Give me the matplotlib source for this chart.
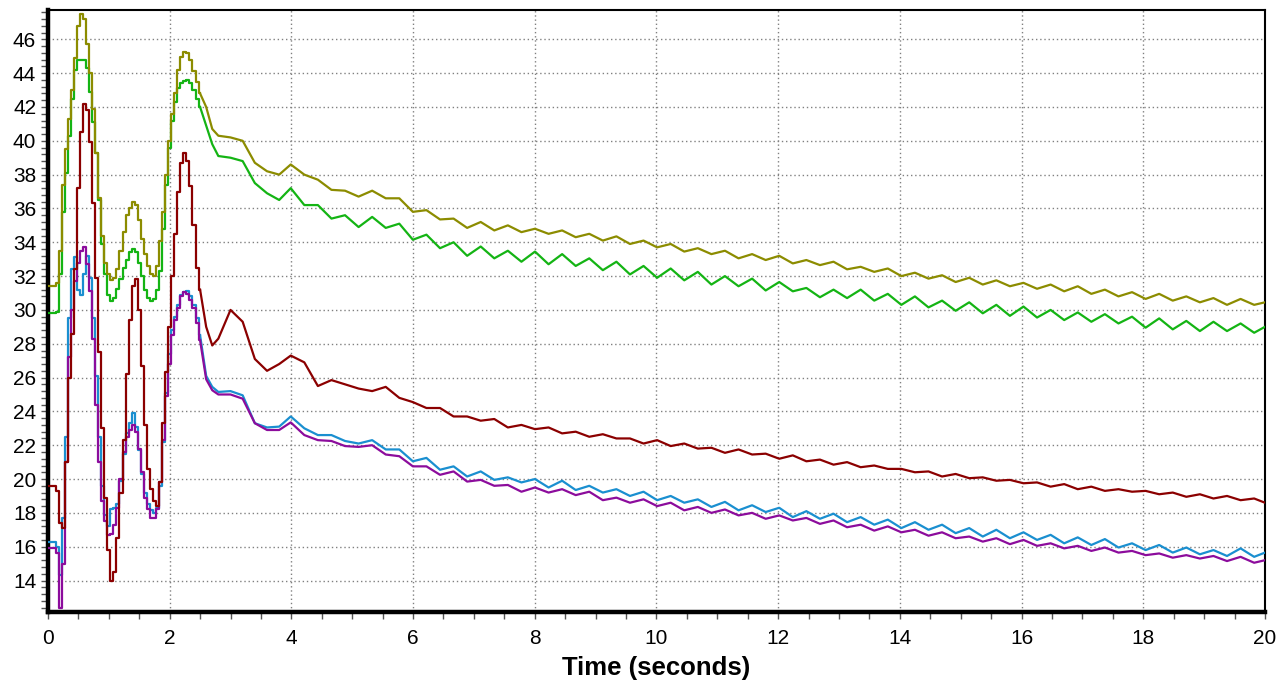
import numpy as np
import matplotlib
matplotlib.use('Agg')
import matplotlib.pyplot as plt
from matplotlib.ticker import MultipleLocator

plt.rcParams['font.family'] = ['Liberation Sans', 'DejaVu Sans']

# sample times (s): fine steps over the start-up, then half-period steps of the ripple
t_early = np.round(np.arange(0.0, 2.501, 0.05), 2)
t_mid = [2.6, 2.7, 2.8, 3.0, 3.2, 3.4, 3.6, 3.8]
t_late = np.round(3.99 + 0.223*np.arange(72), 3)
t = np.concatenate([t_early, t_mid, t_late, [20.0]])
n_early = len(t_early)

olive = [31.4, 31.4, 31.4, 31.6, 33.5, 37.4, 39.5, 41.3, 43.0, 44.9,
         46.8, 47.5, 47.2, 45.7, 44.0, 41.9, 39.3, 36.6, 34.4, 32.8,
         32.1, 31.75, 31.9, 32.4, 33.5, 34.6, 35.6, 36.0, 36.4, 36.2,
         35.3, 34.2, 33.3, 32.6, 32.1, 32.0, 32.6, 34.1, 35.8, 38.0,
         40.0, 41.6, 42.8, 44.2, 44.95, 45.25, 45.2, 44.8, 44.1, 43.5, 42.8,
         42.0, 40.7, 40.3, 40.2, 40.0, 38.7, 38.2, 38.0,
         38.6, 38.0, 37.7, 37.1, 37.05, 36.7, 37.05, 36.6, 36.6, 35.8,
         35.9, 35.35, 35.4, 34.85, 35.2, 34.7,
         35.0, 34.6, 34.8, 34.5, 34.7, 34.3, 34.5, 34.1, 34.35, 33.9,
         34.1, 33.7, 33.9, 33.45, 33.65, 33.3, 33.5, 33.05, 33.3, 32.95,
         33.2, 32.75, 32.95, 32.65, 32.85, 32.4, 32.55, 32.25, 32.45,
         32.0, 32.2, 31.85, 32.05, 31.65, 31.9, 31.5, 31.75, 31.4, 31.6,
         31.25, 31.5, 31.1, 31.4, 30.95, 31.2, 30.8, 31.05, 30.65, 30.95,
         30.55, 30.8, 30.45, 30.7, 30.3, 30.65, 30.3,
         30.45]

green = [29.8, 29.8, 29.8, 29.9, 32.1, 35.8, 38.1, 40.3, 42.5, 44.2,
         44.75, 44.8, 44.8, 44.3, 42.9, 41.1, 39.3, 36.5, 33.9, 32.1,
         30.9, 30.5, 30.7, 31.25, 31.85, 32.45, 32.95, 33.4, 33.6, 33.4,
         32.8, 32.0, 31.2, 30.7, 30.5, 30.65, 31.2, 32.3, 34.8, 37.4,
         39.6, 41.2, 42.3, 43.1, 43.4, 43.55, 43.6, 43.4, 43.0, 42.5, 42.0,
         40.9, 39.8, 39.1, 39.0, 38.8, 37.5, 36.9, 36.5,
         37.2, 36.2, 36.2, 35.4, 35.6, 34.9, 35.5, 34.85, 35.1, 34.15,
         34.45, 33.65, 34.0, 33.2, 33.75, 33.05,
         33.5, 32.85, 33.45, 32.7, 33.3, 32.6, 33.05, 32.35, 32.85, 32.1,
         32.6, 31.9, 32.45, 31.75, 32.25, 31.5, 32.0, 31.4, 31.85, 31.15,
         31.65, 31.1, 31.3, 30.75, 31.2, 30.7, 31.2, 30.55, 30.95,
         30.3, 30.8, 30.15, 30.55, 29.95, 30.45, 29.8, 30.3, 29.65, 30.2,
         29.55, 30.0, 29.4, 29.85, 29.3, 29.75, 29.2, 29.6, 28.95, 29.5,
         28.85, 29.35, 28.75, 29.3, 28.75, 29.2, 28.65,
         29.0]

red = [19.6, 19.6, 19.6, 19.3, 17.4, 17.1, 21.0, 26.0, 28.6, 32.4,
       37.2, 40.5, 42.2, 41.8, 39.9, 36.3, 31.9, 27.5, 23.0, 18.9,
       15.8, 14.0, 14.5, 16.5, 19.2, 22.3, 26.2, 29.4, 31.4, 31.8,
       30.0, 26.7, 23.2, 20.6, 19.4, 18.7, 18.4, 19.8, 23.3, 26.3,
       29.0, 32.0, 34.5, 37.0, 38.7, 39.3, 38.8, 37.3, 35.0, 32.5, 31.2,
       29.0, 27.9, 28.3, 30.0, 29.3, 27.1, 26.4, 26.8,
       27.3, 26.9, 25.5, 25.85, 25.6, 25.35, 25.2, 25.45, 24.8, 24.55,
       24.2, 24.2, 23.7, 23.7, 23.45, 23.55,
       23.05, 23.2, 22.95, 23.05, 22.7, 22.8, 22.5, 22.65, 22.4, 22.4,
       22.1, 22.3, 21.95, 22.1, 21.8, 21.85, 21.55, 21.75, 21.45, 21.5,
       21.2, 21.4, 21.05, 21.15, 20.85, 21.0, 20.7, 20.8, 20.6,
       20.6, 20.4, 20.45, 20.15, 20.3, 20.05, 20.1, 19.9, 19.95, 19.75,
       19.8, 19.55, 19.7, 19.4, 19.55, 19.3, 19.4, 19.25, 19.3, 19.1,
       19.2, 18.95, 19.1, 18.85, 19.0, 18.75, 18.85,
       18.6]

blue = [16.3, 16.3, 16.3, 16.0, 14.3, 17.7, 22.5, 29.5, 32.4, 33.1,
        31.2, 30.9, 32.1, 33.2, 31.9, 29.5, 26.1, 22.5, 19.6, 17.9,
        17.2, 18.2, 18.3, 18.5, 19.9, 21.5, 22.7, 23.3, 23.9, 23.1,
        21.7, 20.3, 19.2, 18.5, 18.15, 18.0, 18.3, 19.6, 22.2, 25.1,
        27.4, 28.8, 29.6, 30.3, 30.9, 31.05, 31.1, 30.8, 30.3, 29.5, 28.5,
        26.1, 25.45, 25.15, 25.2, 24.95, 23.3, 23.05, 23.1,
        23.7, 23.0, 22.6, 22.6, 22.25, 22.1, 22.3, 21.75, 21.75, 21.05,
        21.25, 20.55, 20.75, 20.15, 20.45, 19.95,
        20.1, 19.8, 20.0, 19.5, 19.9, 19.35, 19.6, 19.2, 19.4, 19.0,
        19.25, 18.75, 19.0, 18.6, 18.8, 18.35, 18.65, 18.15, 18.45, 18.05,
        18.3, 17.75, 18.1, 17.65, 17.95, 17.45, 17.75, 17.3, 17.6,
        17.1, 17.45, 17.0, 17.3, 16.8, 17.1, 16.6, 17.0, 16.5, 16.85,
        16.4, 16.7, 16.2, 16.55, 16.1, 16.45, 15.95, 16.2, 15.8, 16.1,
        15.65, 15.95, 15.55, 15.8, 15.45, 15.9, 15.4,
        15.65]

purple = [15.9, 15.9, 15.9, 15.6, 12.4, 15.0, 21.0, 27.2, 30.0, 31.7,
          32.8, 33.5, 33.7, 32.7, 31.1, 28.3, 24.4, 21.0, 18.7, 17.5,
          16.7, 16.75, 17.3, 18.3, 20.0, 21.6, 22.5, 22.9, 23.2, 22.8,
          21.8, 20.4, 18.9, 18.2, 17.7, 17.7, 18.2, 19.8, 22.3, 24.9,
          26.8, 28.5, 29.4, 30.1, 30.8, 31.05, 30.95, 30.6, 30.1, 29.2, 28.2,
          25.9, 25.25, 25.0, 25.0, 24.75, 23.3, 22.9, 22.9,
          23.35, 22.6, 22.3, 22.25, 21.95, 21.9, 22.0, 21.45, 21.35, 20.75,
          20.75, 20.25, 20.45, 19.85, 19.95, 19.6,
          19.65, 19.25, 19.5, 19.2, 19.4, 19.05, 19.25, 18.75, 18.9, 18.6,
          18.8, 18.4, 18.6, 18.15, 18.35, 18.0, 18.2, 17.85, 18.0, 17.65,
          17.85, 17.55, 17.7, 17.35, 17.55, 17.15, 17.3, 16.95, 17.2,
          16.85, 17.0, 16.65, 16.85, 16.5, 16.6, 16.3, 16.5, 16.15, 16.4,
          16.05, 16.2, 15.9, 16.05, 15.75, 15.95, 15.65, 15.75, 15.5, 15.6,
          15.35, 15.5, 15.3, 15.45, 15.15, 15.4, 15.05,
          15.2]

fig = plt.figure(figsize=(12.79, 6.83), dpi=100)
ax = fig.add_axes([0.0375, 0.104, 0.9515, 0.881])

lw = 1.6
series = [(blue, '#1a8fd0'), (purple, '#8c0c9c'), (red, '#8b0000'),
          (green, '#14b414'), (olive, '#8c8c00')]
for z, (vals, col) in enumerate(series):
    vals = np.asarray(vals)
    # sampled start-up held between samples, smooth ripple afterwards
    ax.plot(t[:n_early], vals[:n_early], color=col, lw=lw, drawstyle='steps-mid', zorder=3+z)
    ax.plot(t[n_early-1:], vals[n_early-1:], color=col, lw=lw, zorder=3+z)

ax.set_xlim(0, 20)
ax.set_ylim(12.14, 47.72)
ax.xaxis.set_major_locator(MultipleLocator(2))
ax.xaxis.set_minor_locator(MultipleLocator(0.5))
ax.yaxis.set_minor_locator(MultipleLocator(0.4))
ax.set_yticks(np.arange(14, 47, 2))

ax.grid(True, which='major', color='#808080', linestyle=(0, (1, 2)), lw=1.0, zorder=0)
ax.tick_params(which='both', direction='out', color='#555555', width=1.0, length=5,
               labelsize=15, top=False, right=False)
ax.tick_params(axis='x', pad=7)
ax.tick_params(axis='y', pad=3.5)

for side in ['left', 'bottom']:
    ax.spines[side].set_linewidth(3.2)
for side in ['top', 'right']:
    ax.spines[side].set_linewidth(1.5)

ax.set_xlabel('Time (seconds)', fontsize=18.5, fontweight='bold', labelpad=6)

fig.savefig('out.png', dpi=100)
